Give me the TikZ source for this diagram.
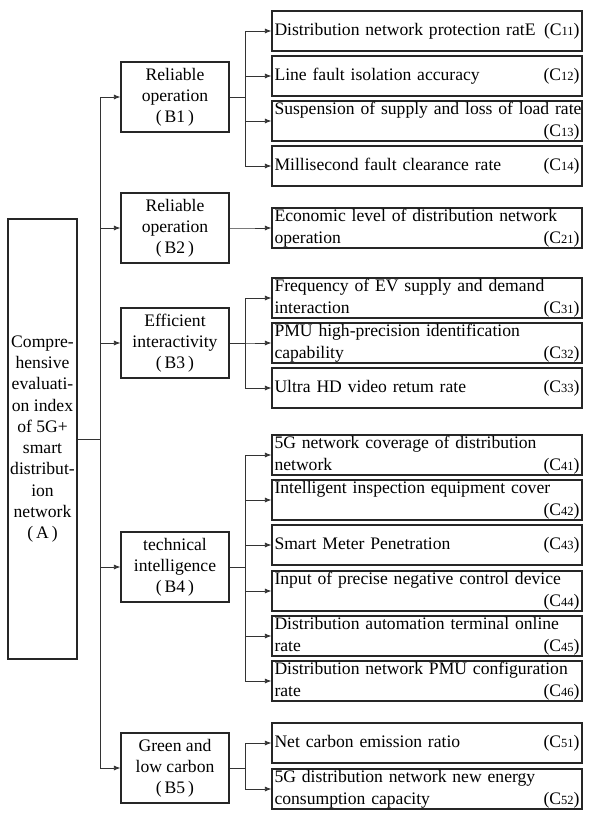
\documentclass[tikz,border=0pt]{standalone}
\usepackage{fontspec}
\setmainfont{Liberation Serif}
\usetikzlibrary{arrows.meta}

% small index digits after C
\newcommand{\cidx}[1]{(C{\fontsize{12.5}{12.5}\selectfont #1})}

\begin{document}
\begin{tikzpicture}
        [
        x=1pt, y=-1pt,
        box/.style={draw=black!85, line width=1.2pt, inner sep=0pt},
        abox/.style={box, minimum width=69pt, minimum height=440pt, align=center, font=\fontsize{17.6}{21.3}\selectfont},
        bbox/.style={box, minimum width=108pt, minimum height=70pt, align=center, font=\fontsize{17.6}{21}\selectfont},
        cbox/.style={box, text width=305pt, minimum height=40pt, inner xsep=2.5pt, align=left, font=\fontsize{17.6}{22}\selectfont},
        link/.style={draw=black!80, line width=0.8pt, -{Latex[length=6.5pt,width=5pt]}}
        ]
        \useasboundingbox (0,0) rectangle (592,821);
        % Root node
        \node[abox] (A) at (42.5,439) {Compre-\\hensive\\evaluati-\\on index\\of 5G+\\smart\\distribut-\\ion\\network\\(\,A\,)};
        \coordinate (trunk) at (100,439);
        % Level 1: criteria
        \foreach \n/\y/\txt in {1/97/{Reliable\\operation},
                                2/228/{Reliable\\operation},
                                3/343/{Efficient\\interactivity},
                                4/567/{technical\\intelligence},
                                5/768/{Green and\\low carbon}}
        {
            \node[bbox] (B\n) at (175,\y) {\txt\\(\,B\n\,)};
            \draw[link] (A.east) -- (trunk) |- (B\n.west);
        }
        % Level 2: indicators
        \foreach \b/\c/\y/\txt in {
            1/11/31/{Distribution network protection ratE\hfill\cidx{11}},
            1/12/76/{Line fault isolation accuracy\hfill\cidx{12}},
            1/13/121/{\mbox{Suspension of supply and loss of load rate}\\\mbox{}\hfill\cidx{13}},
            1/14/166/{Millisecond fault clearance rate\hfill\cidx{14}},
            2/21/228/{Economic level of distribution network\\operation\hfill\cidx{21}},
            3/31/298/{Frequency of EV supply and demand\\interaction\hfill\cidx{31}},
            3/32/343/{PMU high-precision identification\\capability\hfill\cidx{32}},
            3/33/388/{Ultra HD video retum rate\hfill\cidx{33}},
            4/41/455/{5G network coverage of distribution\\network\hfill\cidx{41}},
            4/42/500/{Intelligent inspection equipment cover\\\mbox{}\hfill\cidx{42}},
            4/43/545/{Smart Meter Penetration\hfill\cidx{43}},
            4/44/591/{Input of precise negative control device\\\mbox{}\hfill\cidx{44}},
            4/45/636/{Distribution automation terminal online\\rate\hfill\cidx{45}},
            4/46/681/{Distribution network PMU configuration\\rate\hfill\cidx{46}},
            5/51/743/{Net carbon emission ratio\hfill\cidx{51}},
            5/52/789/{5G distribution network new energy\\consumption capacity\hfill\cidx{52}}}
        {
            \node[cbox] (C\c) at (427,\y) {\txt};
            \draw[link] (B\b.east) -- ++(16,0) |- (C\c.west);
        }
    \end{tikzpicture}
\end{document}
